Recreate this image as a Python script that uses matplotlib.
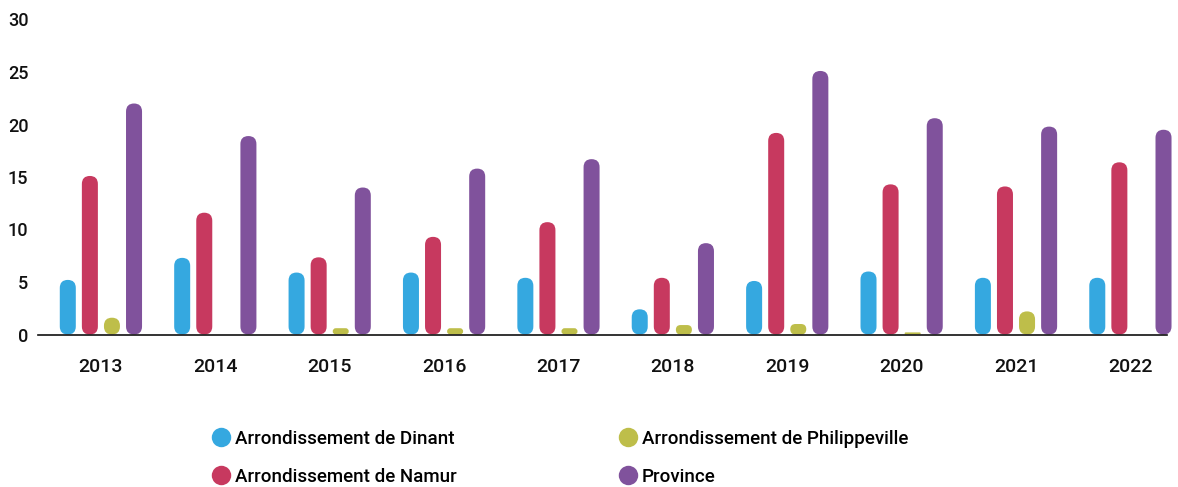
import numpy as np
import matplotlib.pyplot as plt
from matplotlib.patches import FancyBboxPatch
from matplotlib.lines import Line2D

plt.rcParams['font.family'] = ['Roboto', 'DejaVu Sans']

# data
years = ['2013', '2014', '2015', '2016', '2017', '2018', '2019', '2020', '2021', '2022']
dinant = [5.2, 7.3, 5.9, 5.9, 5.4, 2.4, 5.1, 6.0, 5.4, 5.4]
namur = [15.1, 11.6, 7.35, 9.3, 10.7, 5.4, 19.2, 14.3, 14.1, 16.4]
philippeville = [1.6, 0.0, 0.6, 0.6, 0.6, 0.9, 1.0, 0.2, 2.2, 0.0]
province = [22.0, 18.9, 14.0, 15.8, 16.7, 8.7, 25.1, 20.6, 19.8, 19.5]

series = [
    ("Arrondissement de Dinant", dinant, '#35a8e0'),
    ("Arrondissement de Namur", namur, '#c7395f'),
    ("Arrondissement de Philippeville", philippeville, '#bebe4a'),
    ("Province", province, '#80529c'),
]

fig = plt.figure(figsize=(11.78, 4.87), dpi=100)
ax = fig.add_axes([38 / 1178, 1 - 334.5 / 487, (1167 - 38) / 1178, (334.5 - 19.5) / 487])
ax.set_xlim(-0.55, 9.32)
ax.set_ylim(0, 30)

# pixels per data unit, to keep the rounded ends circular
p0 = ax.transData.transform((0, 0))
p1 = ax.transData.transform((1, 1))
aspect = (p1[0] - p0[0]) / (p1[1] - p0[1])

x = np.arange(len(years))
w = 0.14
step = 0.193
offsets = (np.arange(4) - 1.5) * step

for k, (name, vals, col) in enumerate(series):
    for xi, v in zip(x, vals):
        if v <= 0:
            continue
        left = xi + offsets[k] - w / 2
        r = min(w / 2, v / aspect / 2)
        p = FancyBboxPatch((left, 0), w, v,
                           boxstyle=f"round,pad=0,rounding_size={r}",
                           mutation_aspect=aspect, facecolor=col,
                           edgecolor='none', linewidth=0, clip_on=False)
        ax.add_patch(p)

ax.set_xticks(x)
ax.set_xticklabels(years, fontsize=14, fontweight='medium')
ax.set_yticks(np.arange(0, 31, 5))
ax.set_yticklabels([str(v) for v in range(0, 31, 5)], fontsize=13, fontweight='medium')
ax.tick_params(axis='both', length=0, colors='#111111')
ax.tick_params(axis='x', pad=17)
ax.tick_params(axis='y', pad=7)
for s in ['top', 'right', 'left']:
    ax.spines[s].set_visible(False)
ax.spines['bottom'].set_color('#111111')
ax.spines['bottom'].set_linewidth(1.2)

handles = [Line2D([], [], linestyle='none', marker='o', markersize=14,
                  markerfacecolor=col, markeredgecolor='none')
           for name, vals, col in series]
labels = [name for name, vals, col in series]
fig.legend(handles, labels, ncol=2, loc='upper left',
           bbox_to_anchor=(197 / 1178, 1 - 413 / 487), frameon=False,
           prop={'size': 13.5, 'weight': 'medium'}, handlelength=0.8,
           handletextpad=0.35, columnspacing=8.7, labelspacing=1.05)

plt.savefig("out.png", dpi=100)
